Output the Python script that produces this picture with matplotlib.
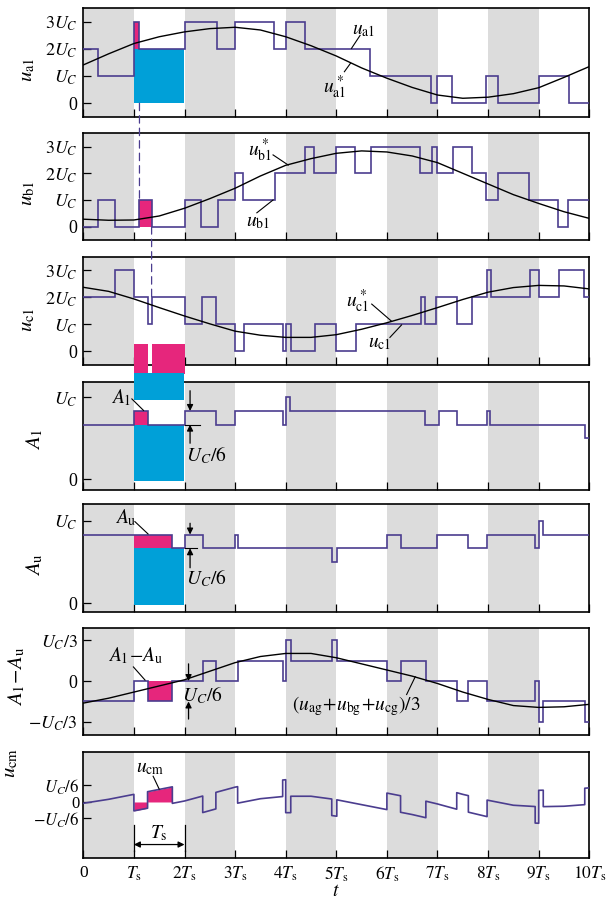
import matplotlib.pyplot as plt
import matplotlib
from matplotlib.patches import Rectangle, ConnectionPatch

matplotlib.rcParams['font.family'] = 'Liberation Serif'
matplotlib.rcParams['mathtext.fontset'] = 'stix'
matplotlib.rcParams['font.size'] = 12

STEP_C = '#4b3d8f'
CYAN = '#00a0d8'
PINK = '#e6267c'
GRAY = '#dcdcdc'

# ── data (voltages in U_C, time in T_s) ──────────────────────────────────────
t_ref = [0, 0.5, 1, 1.5, 2, 2.5, 3, 3.5, 4, 4.5, 5, 5.5, 6, 6.5, 7, 7.5, 8, 8.5, 9, 9.5, 10]
ua_ref = [1.41, 1.82, 2.2, 2.45, 2.63, 2.75, 2.8, 2.7, 2.45, 2.12, 1.74, 1.3, 0.92, 0.58, 0.3, 0.18, 0.22, 0.35, 0.57, 0.95, 1.35]
ub_ref = [0.28, 0.24, 0.25, 0.4, 0.69, 1.05, 1.44, 1.9, 2.3, 2.55, 2.75, 2.84, 2.8, 2.65, 2.4, 2.0, 1.6, 1.2, 0.87, 0.56, 0.31]
uc_ref = [2.37, 2.22, 1.94, 1.62, 1.31, 1.02, 0.75, 0.6, 0.52, 0.52, 0.62, 0.82, 1.06, 1.33, 1.62, 1.92, 2.19, 2.36, 2.44, 2.42, 2.31]
ug_mean = [-0.18, -0.14, -0.09, -0.04, 0.01, 0.08, 0.15, 0.2, 0.225, 0.225, 0.19, 0.14, 0.09, 0.04, -0.02, -0.09, -0.15, -0.2, -0.215, -0.21, -0.19]

ua_edges = [0, 0.30, 1.0, 1.11, 2.0, 2.65, 3.0, 3.77, 4.0, 4.38, 5.67, 6.87, 7.0, 7.29, 7.96, 8.19, 9.0, 9.59, 10]
ua_lev = [2, 1, 3, 2, 3, 2, 3, 2, 3, 2, 1, 0, 1, 0, 1, 0, 1, 0]

ub_edges = [0, 0.30, 0.63, 1.11, 1.35, 2.0, 2.33, 2.67, 3.0, 3.16, 3.79, 4.38, 4.56, 4.99, 5.36, 5.68,
            6.65, 6.89, 7.0, 7.30, 7.68, 7.96, 8.19, 8.81, 9.39, 9.58, 10]
ub_lev = [0, 1, 0, 1, 0, 1, 0, 1, 2, 1, 2, 3, 2, 3, 2, 3, 2, 3, 2, 3, 2, 1, 2, 1, 0, 1]

uc_edges = [0, 0.63, 1.0, 1.27, 1.35, 2.0, 2.34, 2.62, 3.0, 3.18, 3.94, 4.0, 4.10, 4.58, 5.0, 5.38,
            6.67, 6.75, 6.98, 7.38, 7.69, 7.98, 8.05, 8.83, 9.0, 9.41, 9.9, 10]
uc_lev = [2, 3, 2, 1, 2, 1, 2, 1, 0, 1, 0, 1, 0, 1, 0, 1, 2, 1, 2, 1, 2, 3, 2, 3, 2, 3, 2]

a1_edges = [0, 1.0, 1.27, 2.0, 2.62, 3.0, 3.94, 4.0, 4.08, 6.76, 7.02, 7.38, 7.98, 8.04, 9.91, 10]
a1_lev = [2/3, 5/6, 2/3, 5/6, 2/3, 5/6, 2/3, 1, 5/6, 2/3, 5/6, 2/3, 5/6, 2/3, 1/2]

au_edges = [0, 1.76, 2.0, 2.37, 3.0, 3.05, 4.91, 5.01, 6.0, 6.27, 7.0, 7.61, 7.98, 8.93, 9.0, 9.09, 10]
au_lev = [5/6, 2/3, 5/6, 2/3, 5/6, 2/3, 1/2, 2/3, 5/6, 2/3, 5/6, 2/3, 5/6, 2/3, 1, 5/6]

d_edges = [0, 1.0, 1.27, 1.76, 2.36, 2.62, 3.05, 3.94, 4.0, 4.10, 4.91, 5.01, 6.0, 6.27, 6.77, 7.38,
           7.61, 7.98, 8.93, 9.0, 9.09, 9.91, 10]
d_lev = [-1/6, 0, -1/6, 0, 1/6, 0, 1/6, 0, 1/3, 1/6, 1/3, 1/6, 0, 1/6, 0, -1/6, 0, -1/6, 0, -1/3, -1/6, -1/3]

ucm_t = [0, 0.5, 1.0, 1.0, 1.27, 1.27, 1.5, 1.76, 1.76, 2.0, 2.36, 2.36, 2.62, 2.62, 3.0, 3.05, 3.05,
         3.5, 3.94, 3.94, 4.0, 4.0, 4.10, 4.10, 4.5, 4.91, 4.91, 5.01, 5.01, 5.5, 6.0, 6.0, 6.27, 6.27,
         6.5, 6.77, 6.77, 7.0, 7.38, 7.38, 7.5, 7.61, 7.61, 7.98, 7.98, 8.5, 8.93, 8.93, 9.0, 9.0,
         9.09, 9.09, 9.5, 9.91, 9.91, 10]
ucm_v = [-0.013, 0.027, 0.077, -0.09, -0.063, 0.104, 0.127, 0.153, -0.014, 0.01, 0.06, -0.107, -0.07,
         0.097, 0.15, 0.155, -0.012, 0.033, 0.055, 0.222, 0.225, -0.108, -0.108, 0.058, 0.058, 0.03,
         -0.137, -0.144, 0.022, -0.027, -0.077, 0.09, 0.063, -0.104, -0.127, -0.159, 0.008, -0.02,
         -0.073, 0.094, 0.077, 0.064, -0.103, -0.148, 0.019, -0.033, -0.046, -0.213, -0.215, 0.118,
         0.119, -0.047, -0.043, -0.027, 0.139, 0.143]

xtick_labels = ['0'] + [r'$%sT_{\rm s}$' % ('' if k == 1 else str(k)) for k in range(1, 11)]

# ── layout ───────────────────────────────────────────────────────────────────
W, H = 607, 902
fig = plt.figure(figsize=(W / 100, H / 100), dpi=100)
tops = [8.3, 133.3, 256.7, 381.7, 504.3, 628.3, 752]
bots = [116.7, 240, 365, 490, 612.3, 735, 858]
axes = [fig.add_axes([83.3 / W, 1 - b / H, (589.3 - 83.3) / W, (b - t) / H]) for t, b in zip(tops, bots)]
ax1, ax2, ax3, ax4, ax5, ax6, ax7 = axes

for ax in axes:
    ax.set_xlim(0, 10)
    for k in range(0, 10, 2):
        ax.axvspan(k, k + 1, color=GRAY, lw=0, zorder=0)
    ax.set_xticks(range(11))
    ax.set_xticklabels([])
    ax.tick_params(direction='in', length=6, width=0.9, labelsize=13, pad=4)
    for s in ax.spines.values():
        s.set_linewidth(1.2)


def stairs(ax, edges, lev):
    ax.stairs(lev, edges, baseline=None, color=STEP_C, lw=1.2, zorder=5)


def box(ax, x0, x1, y0, y1, c, clip=True):
    ax.add_patch(Rectangle((x0, y0), x1 - x0, y1 - y0, color=c, lw=0, zorder=3, clip_on=clip))


def leader(ax, p0, p1):
    ax.plot([p0[0], p1[0]], [p0[1], p1[1]], color='k', lw=0.8, zorder=6)


def arrow(ax, x, y_from, y_to):
    ax.annotate('', xy=(x, y_to), xytext=(x, y_from),
                arrowprops=dict(arrowstyle='-|>', color='k', lw=0.9, shrinkA=0, shrinkB=0, mutation_scale=9),
                zorder=6)


uc_ticks = [0, 1, 2, 3]
uc_labels = ['0', r'$U_C$', r'$2U_C$', r'$3U_C$']

# ── Panel 1: u_a1 ─────────────────────────────────────────────────────────────
box(ax1, 1.0, 2.0, 0, 2, CYAN)
box(ax1, 1.0, 1.11, 2, 3, PINK)
stairs(ax1, ua_edges, ua_lev)
ax1.plot(t_ref, ua_ref, color='k', lw=1.0, zorder=5)
ax1.set_ylim(-0.5, 3.5)
ax1.set_yticks(uc_ticks)
ax1.set_yticklabels(uc_labels)
ax1.text(5.53, 2.69, r'$u_{\rm a1}$', fontsize=14, ha='center', va='center')
leader(ax1, (5.47, 2.5), (5.30, 2.02))
ax1.text(4.97, 0.6, r'$u^*_{\rm a1}$', fontsize=14, ha='center', va='center')
leader(ax1, (5.16, 1.16), (5.28, 1.47))

# ── Panel 2: u_b1 ─────────────────────────────────────────────────────────────
box(ax2, 1.11, 1.35, 0, 1, PINK)
stairs(ax2, ub_edges, ub_lev)
ax2.plot(t_ref, ub_ref, color='k', lw=1.0, zorder=5)
ax2.set_ylim(-0.5, 3.5)
ax2.set_yticks(uc_ticks)
ax2.set_yticklabels(uc_labels)
ax2.text(3.49, 2.87, r'$u^*_{\rm b1}$', fontsize=14, ha='center', va='center')
leader(ax2, (3.75, 2.69), (4.05, 2.31))
ax2.text(3.45, 0.15, r'$u_{\rm b1}$', fontsize=14, ha='center', va='center')
leader(ax2, (3.43, 0.52), (3.75, 1.0))

# ── Panel 3: u_c1 ─────────────────────────────────────────────────────────────
box(ax3, 1.0, 1.27, -0.82, 0.26, PINK, clip=False)
box(ax3, 1.35, 2.0, -0.82, 0.26, PINK, clip=False)
stairs(ax3, uc_edges, uc_lev)
ax3.plot(t_ref, uc_ref, color='k', lw=1.0, zorder=5)
ax3.set_ylim(-0.5, 3.5)
ax3.set_yticks(uc_ticks)
ax3.set_yticklabels(uc_labels)
ax3.text(5.43, 1.87, r'$u^*_{\rm c1}$', fontsize=14, ha='center', va='center')
leader(ax3, (5.70, 1.75), (6.09, 1.12))
ax3.text(5.86, 0.3, r'$u_{\rm c1}$', fontsize=14, ha='center', va='center')
leader(ax3, (6.06, 0.52), (6.29, 0.98))

# ── Panel 4: A_1 ──────────────────────────────────────────────────────────────
box(ax4, 1.0, 2.0, 0.97, 1.30, CYAN, clip=False)
box(ax4, 1.0, 2.0, -0.02, 2/3, CYAN)
box(ax4, 1.0, 1.27, 2/3, 5/6, PINK)
stairs(ax4, a1_edges, a1_lev)
ax4.set_ylim(-0.13, 1.19)
ax4.set_yticks([0, 1])
ax4.set_yticklabels(['0', r'$U_C$'])
ax4.text(0.75, 1.0, r'$A_1$', fontsize=14, ha='center', va='center')
leader(ax4, (0.96, 0.98), (1.19, 0.84))
ax4.plot([2.0, 2.3], [2/3, 2/3], color='k', lw=0.8, zorder=5)
arrow(ax4, 2.11, 1.08, 5/6)
arrow(ax4, 2.11, 0.44, 2/3)
ax4.text(2.03, 0.29, r'$U_C/6$', fontsize=14, ha='left', va='center')

# ── Panel 5: A_u ──────────────────────────────────────────────────────────────
box(ax5, 1.0, 2.0, -0.02, 2/3, CYAN)
box(ax5, 1.0, 1.76, 2/3, 5/6, PINK)
stairs(ax5, au_edges, au_lev)
ax5.set_ylim(-0.11, 1.2)
ax5.set_yticks([0, 1])
ax5.set_yticklabels(['0', r'$U_C$'])
ax5.text(0.83, 1.04, r'$A_{\rm u}$', fontsize=14, ha='center', va='center')
leader(ax5, (1.02, 0.99), (1.28, 0.84))
ax5.plot([2.0, 2.25], [2/3, 2/3], color='k', lw=0.8, zorder=5)
arrow(ax5, 2.11, 0.97, 5/6)
arrow(ax5, 2.11, 0.43, 2/3)
ax5.text(2.03, 0.31, r'$U_C/6$', fontsize=14, ha='left', va='center')

# ── Panel 6: A_1 - A_u ────────────────────────────────────────────────────────
box(ax6, 1.27, 1.76, -1/6, 0, PINK)
stairs(ax6, d_edges, d_lev)
ax6.plot(t_ref, ug_mean, color='k', lw=1.0, zorder=5)
ax6.set_ylim(-0.44, 0.43)
ax6.set_yticks([-1/3, 0, 1/3])
ax6.set_yticklabels([r'$-U_C/3$', '0', r'$U_C/3$'])
ax6.text(1.04, 0.21, r'$A_1\!-\!A_{\rm u}$', fontsize=14, ha='center', va='center')
leader(ax6, (0.99, 0.115), (1.22, 0.008))
arrow(ax6, 2.08, 0.14, 0)
arrow(ax6, 2.08, -0.31, -1/6)
ax6.text(1.95, -0.115, r'$U_C/6$', fontsize=14, ha='left', va='center')
ax6.text(5.39, -0.2, r'$(u_{\rm ag}\!+\!u_{\rm bg}\!+\!u_{\rm cg})/3$', fontsize=14, ha='center', va='center')
leader(ax6, (6.39, -0.11), (6.56, 0.035))

# ── Panel 7: u_cm ─────────────────────────────────────────────────────────────
ax7.fill_between(ucm_t[3:5], ucm_v[3:5], 0, color=PINK, lw=0, zorder=3)
ax7.fill_between(ucm_t[5:8], ucm_v[5:8], 0, color=PINK, lw=0, zorder=3)
ax7.plot(ucm_t, ucm_v, color=STEP_C, lw=1.2, zorder=5)
ax7.set_ylim(-0.566, 0.505)
ax7.set_yticks([-1/6, 0, 1/6])
ax7.set_yticklabels([r'$-U_C/6$', '0', r'$U_C/6$'])
ax7.tick_params(axis='y', labelsize=12, pad=3)
ax7.tick_params(axis='x', labelsize=12.5, pad=5)
ax7.text(1.32, 0.34, r'$u_{\rm cm}$', fontsize=14, ha='center', va='center')
leader(ax7, (1.38, 0.26), (1.5, 0.13))
for x in (1, 2):
    ax7.plot([x, x], [-0.23, -0.5], color='k', lw=0.9, zorder=6)
ax7.annotate('', xy=(1.0, -0.43), xytext=(2.0, -0.43),
             arrowprops=dict(arrowstyle='<|-|>', color='k', lw=0.9, shrinkA=0, shrinkB=0, mutation_scale=9))
ax7.text(1.5, -0.31, r'$T_{\rm s}$', fontsize=14, ha='center', va='center')
ax7.set_xticklabels(xtick_labels)
ax7.set_xlabel(r'$t$', fontsize=14, labelpad=-1)

# ── y labels ──────────────────────────────────────────────────────────────────
ylabels = [r'$u_{\rm a1}$', r'$u_{\rm b1}$', r'$u_{\rm c1}$', r'$A_1$', r'$A_{\rm u}$',
           r'$A_1\!-\!A_{\rm u}$', r'$u_{\rm cm}$']
ylab_pos = [(-0.09, 0.43), (-0.09, 0.44), (-0.09, 0.42), (-0.076, 0.47), (-0.076, 0.44),
            (-0.11, 0.55), (-0.125, 0.9)]
for ax, lab, pos in zip(axes, ylabels, ylab_pos):
    ax.set_ylabel(lab, fontsize=15)
    ax.yaxis.set_label_coords(*pos)

# dashed guide lines across panels
for (axA, yA), (axB, yB), x in [((ax1, 0), (ax2, 1), 1.11), ((ax2, 0), (ax3, 2), 1.35)]:
    con = ConnectionPatch(xyA=(x, yA), coordsA=axA.transData, xyB=(x, yB), coordsB=axB.transData,
                          color=STEP_C, lw=0.9, linestyle=(0, (6, 4)))
    fig.add_artist(con)

plt.savefig('out.png', dpi=100)
